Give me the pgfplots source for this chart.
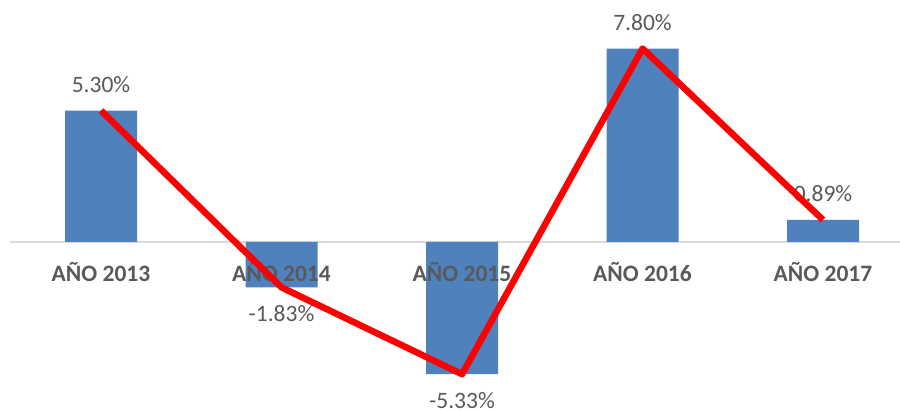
\documentclass[border=0pt]{standalone}
\usepackage{pgfplots}
\pgfplotsset{compat=1.18}
\usepackage{fontspec}
\setmainfont{Carlito}
\definecolor{barblue}{HTML}{4F81BD}
\definecolor{txtgray}{HTML}{595959}
\definecolor{axgray}{HTML}{D9D9D9}
\begin{document}
\begin{tikzpicture}
\begin{axis}[
  name=ax,
  set layers,
  scale only axis,
  width=900pt, height=410pt,
  xmin=-0.5596, xmax=4.4266,
  ymin=-6.774, ymax=9.758,
  axis x line=middle,
  axis y line=none,
  x axis line style={draw=none},
  major tick length=0pt,
  xtick={0,1,2,3,4},
  xticklabels={AÑO 2013,AÑO 2014,AÑO 2015,AÑO 2016,AÑO 2017},
  xticklabel style={anchor=base, yshift=-40pt, text=txtgray, font=\fontsize{23.5}{28}\selectfont\bfseries, inner sep=0pt},
  ytick=\empty,
  clip=false,
]
\addplot[on layer=axis background, draw=axgray, line width=1.2pt, forget plot] coordinates {(-0.504,0) (4.4266,0)};
\addplot[on layer=axis background, ybar, bar width=72pt, fill=barblue, draw=none,
  visualization depends on={y \as \rawy},
  nodes near coords={\pgfmathprintnumber[fixed,fixed zerofill,precision=2,assume math mode=true]{\pgfplotspointmeta}\%},
  every node near coord/.style={anchor=base, inner sep=0pt, text=txtgray,
    font=\fontsize{23.5}{28}\selectfont,
    yshift={(\rawy>0)*18-(\rawy<0)*34}},
] coordinates {(0,5.30) (1,-1.83) (2,-5.33) (3,7.80) (4,0.89)};
\addplot[on layer=axis foreground, draw=red, line width=6.5pt, line join=round, mark=none] coordinates {(0,5.30) (1,-1.83) (2,-5.33) (3,7.80) (4,0.89)};
\end{axis}
\pgfresetboundingbox
\useasboundingbox (ax.south west) rectangle (ax.north east);
\end{tikzpicture}
\end{document}
